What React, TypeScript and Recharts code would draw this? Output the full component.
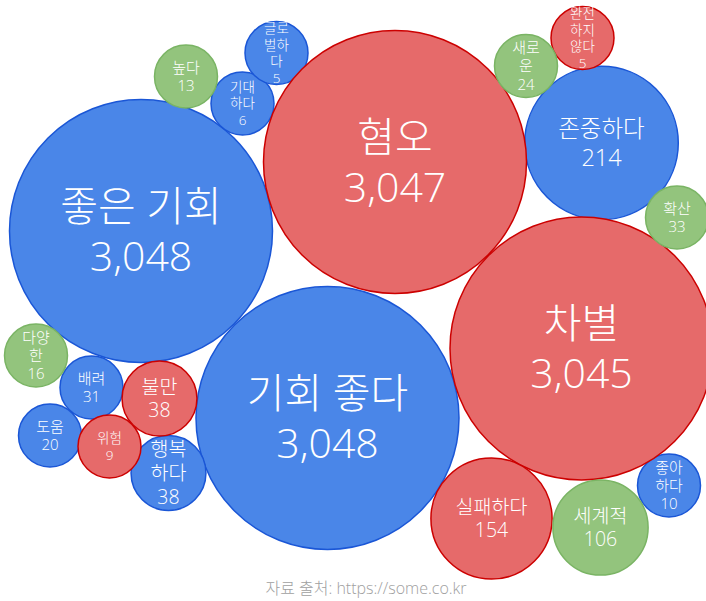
import React from 'react';
import { ScatterChart, Scatter, XAxis, YAxis, ZAxis } from 'recharts';

// Positive words (blue)
const positiveWords = ['좋은 기회', '기회 좋다', '존중하다', '행복하다', '배려', '도움', '좋아하다', '기대하다', '글로벌하다'];
const positiveCounts = [3048, 3048, 214, 38, 31, 20, 10, 6, 5];
const positiveX = [141, 327.5, 601.5, 168.5, 91.5, 50, 669, 242.5, 276.5];
const positiveY = [231, 418, 143, 473, 387.5, 435.5, 485.5, 103.5, 53];

// Negative words (red)
const negativeWords = ['혐오', '차별', '실패하다', '불만', '위험', '완전하지않다'];
const negativeCounts = [3047, 3045, 154, 38, 9, 5];
const negativeX = [395, 581.5, 491.5, 159.5, 109.5, 582.5];
const negativeY = [162, 348.5, 518.5, 398.5, 446.5, 38];

// Neutral words (green)
const neutralWords = ['세계적', '확산', '새로운', '다양한', '높다'];
const neutralCounts = [106, 33, 24, 16, 13];
const neutralX = [600.5, 677, 526, 36, 186];
const neutralY = [527.5, 217.5, 66, 355.5, 76.5];

const sourceText = '자료 출처: https://some.co.kr';

const build = (words: string[], counts: number[], xs: number[], ys: number[]) =>
  words.map((name, i) => ({ name, value: counts[i], x: xs[i], y: ys[i] }));

const positiveData = build(positiveWords, positiveCounts, positiveX, positiveY);
const negativeData = build(negativeWords, negativeCounts, negativeX, negativeY);
const neutralData = build(neutralWords, neutralCounts, neutralX, neutralY);

const W = 706;
const H = 601;
const MAX_R = 131.5;
const FONT = "'Open Sans', 'Noto Sans CJK KR', sans-serif";

const labelFont = (v: number) =>
  v >= 1000 ? 41 : v >= 200 ? 23.5 : v >= 35 ? 19.5 : v >= 10 ? 15 : 13.5;

const wrapName = (name: string, r: number) => {
  if (r >= 40 || name.length <= 2) return [name];
  const out: string[] = [];
  for (let i = 0; i < name.length; i += 2) out.push(name.slice(i, i + 2));
  return out;
};

const makeShape = (fill: string, stroke: string) => (props: any) => {
  const { cx, cy, payload } = props;
  let size = props.size;
  if (typeof size !== 'number') size = (props.width || 0) / 2;
  const v = payload.value as number;
  const font = labelFont(v);
  const minR = Math.max(31.5, font * 1.92);
  const r = Math.min(MAX_R, Math.max(size, minR));
  const lines = wrapName(payload.name, r).concat(v.toLocaleString('en-US'));
  const n = lines.length;
  const lh = font * 1.22;
  return (
    <g>
      <circle cx={cx} cy={cy} r={r} fill={fill} stroke={stroke} strokeWidth={1.5} />
      <text textAnchor="middle" fill="#ffffff" fontSize={font} fontWeight={300} fontFamily={FONT}>
        {lines.map((l, i) => (
          <tspan key={i} x={cx} y={cy + (i - (n - 1) / 2) * lh + 0.36 * font}>
            {l}
          </tspan>
        ))}
      </text>
    </g>
  );
};

export default function App() {
  return (
    <div style={{ position: 'absolute', left: 0, top: 0, width: W, height: H, background: '#fff' }}>
      <ScatterChart width={W} height={H} margin={{ top: 0, right: 0, bottom: 0, left: 0 }}>
        <XAxis type="number" dataKey="x" domain={[0, W]} allowDataOverflow hide />
        <YAxis type="number" dataKey="y" domain={[0, H]} allowDataOverflow reversed hide />
        <ZAxis type="number" dataKey="value" domain={[0, 3048]} range={[19, 842]} />
        <Scatter data={positiveData} shape={makeShape('#4a86e8', '#1a56d6')} isAnimationActive={false} />
        <Scatter data={negativeData} shape={makeShape('#e66a6a', '#cc0000')} isAnimationActive={false} />
        <Scatter data={neutralData} shape={makeShape('#93c47d', '#7ab464')} isAnimationActive={false} />
      </ScatterChart>
      <div
        style={{
          position: 'absolute',
          left: 366,
          top: 578,
          transform: 'translateX(-50%)',
          whiteSpace: 'nowrap',
          fontFamily: FONT,
          fontSize: 16,
          fontWeight: 300,
          lineHeight: '20px',
          color: '#a0a0a0',
        }}
      >
        {sourceText}
      </div>
    </div>
  );
}
